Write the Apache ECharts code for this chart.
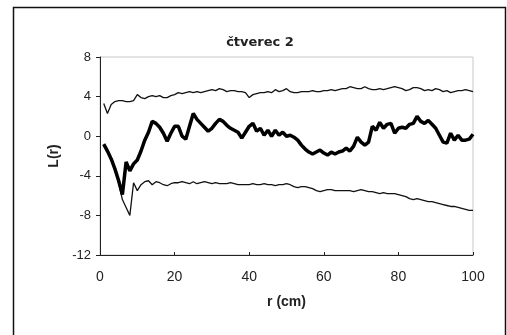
<!DOCTYPE html>
<html>
<head>
<meta charset="utf-8">
<script src="https://cdn.jsdelivr.net/npm/echarts@6/dist/echarts.min.js"></script>
<style>html,body{margin:0;padding:0;background:#fff;}#c{width:507px;height:335px;}</style>
</head>
<body>
<div id="c"></div>
<script>
const titleText = 'čtverec 2';
const xName = 'r (cm)';
const yName = 'L(r)';
const yTicks = [-12, -8, -4, 0, 4, 8];
const xTicks = [0, 20, 40, 60, 80, 100];

const r = [];
for (let i = 1; i <= 100; i++) r.push(i);

const observed = [
  -0.8, -1.5, -2.3, -3.3, -4.5, -5.9, -2.6, -3.5, -2.8, -2.4,
  -1.5, -0.4, 0.4, 1.5, 1.3, 0.9, 0.3, -0.5, 0.3, 1.0,
  1.0, 0.0, -0.3, 1.0, 2.3, 1.7, 1.3, 0.9, 0.5, 0.8,
  1.3, 1.7, 1.5, 1.1, 0.8, 0.6, 0.4, -0.2, 0.4, 1.0,
  1.3, 0.5, 0.8, 0.1, 0.6, 0.0, 0.6, 0.1, 0.4, 0.0,
  0.1, -0.1, -0.4, -0.9, -1.3, -1.6, -1.8, -1.6, -1.4, -1.7,
  -1.9, -1.6, -1.8, -1.6, -1.5, -1.2, -1.5, -1.0, -0.1, -0.6,
  -0.9, -0.6, 1.0, 0.6, 1.4, 0.8, 1.2, 1.3, 0.3, 0.8,
  0.9, 0.8, 1.2, 1.3, 2.0, 1.5, 1.3, 1.6, 1.2, 0.8,
  0.1, -0.6, -0.7, 0.3, -0.4, 0.1, -0.4, -0.4, -0.3, 0.2
];

const upper = [
  3.3, 2.3, 3.2, 3.5, 3.6, 3.6, 3.5, 3.5, 3.6, 4.2,
  3.9, 3.8, 4.0, 4.1, 4.0, 4.1, 3.9, 3.9, 4.1, 4.2,
  4.4, 4.3, 4.4, 4.5, 4.4, 4.5, 4.4, 4.5, 4.6, 4.7,
  4.6, 4.8, 4.7, 4.5, 4.6, 4.6, 4.5, 4.5, 4.4, 3.9,
  4.2, 4.3, 4.4, 4.4, 4.5, 4.4, 4.7, 4.5, 4.6, 4.8,
  4.5, 4.4, 4.4, 4.5, 4.5, 4.5, 4.6, 4.5, 4.5, 4.6,
  4.6, 4.7, 4.6, 4.7, 4.8, 4.8, 5.0, 4.9, 4.8, 4.8,
  5.0, 4.8, 4.7, 4.7, 4.8, 4.7, 4.8, 4.9, 5.0, 4.9,
  4.8, 4.6, 4.7, 4.9, 4.9, 4.8, 4.6, 4.7, 4.6, 4.8,
  4.7, 4.5, 4.6, 4.4, 4.5, 4.6, 4.6, 4.7, 4.6, 4.5
];

const lower = [
  -0.9, -1.6, -2.4, -3.4, -4.7, -6.4, -7.2, -8.0, -4.7, -5.5,
  -4.9, -4.6, -4.5, -4.9, -4.6, -4.7, -4.9, -5.0, -4.8, -4.7,
  -4.7, -4.6, -4.7, -4.8, -4.6, -4.8, -4.7, -4.6, -4.7, -4.8,
  -4.7, -4.8, -4.8, -4.8, -4.7, -4.8, -4.9, -4.9, -4.9, -4.9,
  -4.8, -4.9, -4.9, -4.8, -4.9, -4.9, -5.0, -4.9, -4.9, -4.8,
  -4.9, -5.1, -5.2, -5.1, -5.1, -5.2, -5.3, -5.5, -5.6, -5.5,
  -5.4, -5.4, -5.5, -5.5, -5.5, -5.5, -5.5, -5.6, -5.5, -5.4,
  -5.5, -5.6, -5.6, -5.7, -5.8, -5.7, -5.8, -5.8, -5.8, -5.9,
  -6.0, -6.1, -6.3, -6.4, -6.3, -6.4, -6.5, -6.6, -6.6, -6.7,
  -6.8, -6.9, -7.0, -7.1, -7.1, -7.2, -7.3, -7.4, -7.5, -7.5
];

const pairs = arr => r.map((x, i) => [x, arr[i]]);

const chart = echarts.init(document.getElementById('c'), null, {renderer: 'canvas'});
const font = 'Liberation Sans, Arial, sans-serif';
chart.setOption({
  animation: false,
  backgroundColor: '#fff',
  graphic: [{
    type: 'rect', left: 11, top: 5, shape: {width: 492, height: 345},
    style: {fill: 'none', stroke: '#111', lineWidth: 1.5}
  }],
  title: {
    text: titleText, left: 255, top: 31, textAlign: 'center',
    textStyle: {fontFamily: 'DejaVu Sans', fontWeight: 'bold', fontSize: 13, color: '#222'}
  },
  grid: {left: 100, right: 34, top: 57, bottom: 80, show: true, borderColor: '#c8c8c8', borderWidth: 1},
  xAxis: {
    type: 'value', min: xTicks[0], max: xTicks[xTicks.length - 1], interval: 20,
    name: xName, nameLocation: 'middle', nameGap: 40,
    nameTextStyle: {fontFamily: font, fontSize: 14, fontWeight: 'bold', color: '#222'},
    axisLine: {show: true, onZero: false, lineStyle: {color: '#222', width: 1}},
    axisTick: {show: true, inside: true, length: 3, lineStyle: {color: '#222'}},
    axisLabel: {margin: 15, fontFamily: font, fontSize: 14, color: '#222'},
    splitLine: {show: false}
  },
  yAxis: {
    type: 'value', min: yTicks[0], max: yTicks[yTicks.length - 1], interval: 4,
    name: yName, nameLocation: 'middle', nameGap: 38, nameRotate: 90,
    nameTextStyle: {fontFamily: font, fontSize: 14, fontWeight: 'bold', color: '#222'},
    axisLine: {show: true, onZero: false, lineStyle: {color: '#222', width: 1}},
    axisTick: {show: true, inside: false, length: 4, lineStyle: {color: '#222'}},
    axisLabel: {margin: 9, fontFamily: font, fontSize: 13, color: '#222'},
    splitLine: {show: false}
  },
  series: [
    {type: 'line', data: pairs(upper), showSymbol: false, lineStyle: {color: '#111', width: 1.3}, z: 2},
    {type: 'line', data: pairs(lower), showSymbol: false, lineStyle: {color: '#111', width: 1.3}, z: 2},
    {type: 'line', data: pairs(observed), showSymbol: false, lineStyle: {color: '#000', width: 3.5}, z: 3}
  ]
});
</script>
</body>
</html>
